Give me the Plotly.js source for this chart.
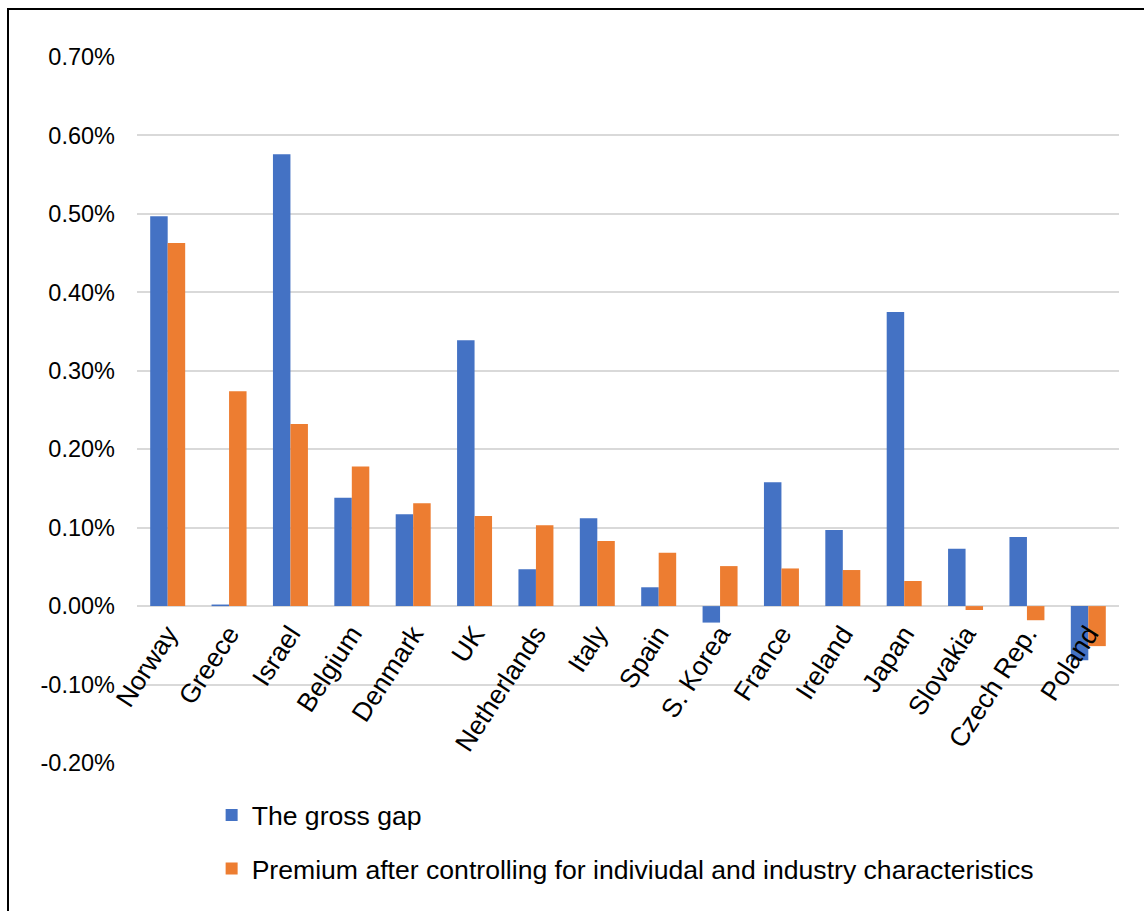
<!DOCTYPE html>
<html>
<head>
<meta charset="utf-8">
<script src="https://cdn.plot.ly/plotly-3.0.1.min.js"></script>
<style>
  html, body { margin: 0; padding: 0; background: #ffffff; }
  #chart { width: 1144px; height: 911px; }
</style>
</head>
<body>
<div id="chart"></div>
<script>
// Countries along the category axis
const countries = ["Norway", "Greece", "Israel", "Belgium", "Denmark", "UK", "Netherlands", "Italy",
                   "Spain", "S. Korea", "France", "Ireland", "Japan", "Slovakia", "Czech Rep.", "Poland"];

// Values in percent
const grossGap = [0.497, 0.002, 0.576, 0.138, 0.117, 0.339, 0.047, 0.112,
                  0.024, -0.021, 0.158, 0.097, 0.375, 0.073, 0.088, -0.069];
const premium  = [0.463, 0.274, 0.232, 0.178, 0.131, 0.115, 0.103, 0.083,
                  0.068, 0.051, 0.048, 0.046, 0.032, -0.005, -0.018, -0.051];

const seriesNames = ["The gross gap",
                     "Premium after controlling for indiviudal and industry characteristics"];

const yTickVals = [-0.2, -0.1, 0, 0.1, 0.2, 0.3, 0.4, 0.5, 0.6, 0.7];
const yTickText = ["-0.20%", "-0.10%", "0.00%", "0.10%", "0.20%", "0.30%", "0.40%", "0.50%", "0.60%", "0.70%"];

const yMin = -0.2, yMax = 0.7;
const FONT = "Liberation Sans, Arial, sans-serif";

const traces = [
  { type: "bar", x: countries, y: grossGap, name: seriesNames[0], legendgroup: "a",
    marker: { color: "#4472C4", line: { width: 0 } }, hoverinfo: "x+y" },
  { type: "bar", x: countries, y: premium, name: seriesNames[1], legendgroup: "b",
    marker: { color: "#ED7D31", line: { width: 0 } }, hoverinfo: "x+y" }
];

const layout = {
  width: 1144, height: 911,
  margin: { l: 137, r: 25, t: 57, b: 148 },
  paper_bgcolor: "#ffffff", plot_bgcolor: "#ffffff",
  font: { family: FONT, color: "#000000", size: 24 },
  barmode: "group", bargap: 0.43, bargroupgap: 0,
  showlegend: true,
  legend: {
    x: 0.076, xanchor: "left", y: -0.04, yanchor: "top",
    orientation: "v", traceorder: "grouped", tracegroupgap: 16,
    font: { family: FONT, size: 26.6, color: "#000000" },
    itemwidth: 30
  },
  xaxis: {
    type: "category",
    anchor: "free",
    position: (0 - yMin) / (yMax - yMin),
    showgrid: false, showline: false, zeroline: false,
    ticks: "", tickangle: -57,
    tickfont: { family: FONT, size: 26.5, color: "#000000" },
    ticklabelstandoff: 6
  },
  yaxis: {
    range: [yMin, yMax],
    tickvals: yTickVals, ticktext: yTickText,
    showgrid: true, gridcolor: "#d9d9d9", gridwidth: 2,
    zeroline: true, zerolinecolor: "#d9d9d9", zerolinewidth: 2,
    showline: false, ticks: "",
    tickfont: { family: FONT, size: 23.5, color: "#000000" },
    ticklabelstandoff: 21
  },
  shapes: [{
    type: "rect", xref: "paper", yref: "paper",
    x0: (8 - 137) / 982, x1: 1.2,
    y0: -0.5, y1: (763 - 9) / 706,
    line: { color: "#000000", width: 2 }, fillcolor: "rgba(0,0,0,0)"
  }]
};

Plotly.newPlot("chart", traces, layout, { displayModeBar: false, staticPlot: true });
</script>
</body>
</html>
